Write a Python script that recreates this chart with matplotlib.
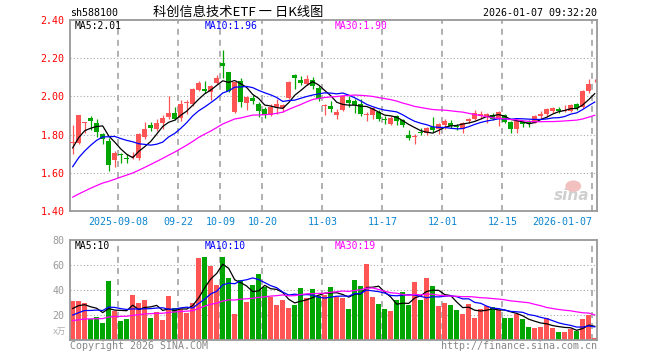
import numpy as np
import matplotlib
matplotlib.use("Agg")
import matplotlib.pyplot as plt
from matplotlib.patches import Ellipse

plt.rcParams['font.family'] = ['DejaVu Sans Mono', 'Noto Sans CJK SC']

# daily candles, 2025-08-27 .. 2026-01-07
open_ = [1.755, 1.754, 1.860, 1.886, 1.860, 1.805, 1.767, 1.667, 1.698, 1.675,
         1.683, 1.675, 1.786, 1.849, 1.828, 1.863, 1.891, 1.912, 1.886, 1.965,
         1.960, 2.035, 2.040, 2.025, 2.070, 2.175, 2.126, 1.919, 2.081, 1.968,
         1.991, 1.960, 1.933, 1.902, 1.946, 1.940, 1.991, 2.112, 2.086, 2.065,
         2.088, 2.042, 1.950, 1.951, 1.905, 1.930, 1.982, 1.975, 1.960, 1.905,
         1.902, 1.919, 1.879, 1.856, 1.895, 1.877, 1.796, 1.790, 1.809, 1.807,
         1.842, 1.828, 1.849, 1.860, 1.843, 1.828, 1.870, 1.881, 1.895, 1.898,
         1.902, 1.884, 1.902, 1.867, 1.828, 1.867, 1.864, 1.863, 1.895, 1.907,
         1.926, 1.935, 1.925, 1.925, 1.960, 1.942, 2.030, 2.084]
high = [1.849, 1.905, 1.868, 1.898, 1.881, 1.810, 1.784, 1.712, 1.703, 1.700,
        1.710, 1.807, 1.867, 1.864, 1.881, 1.902, 2.000, 1.942, 1.980, 1.980,
        2.044, 2.080, 2.080, 2.060, 2.112, 2.244, 2.130, 2.077, 2.098, 2.000,
        2.009, 1.970, 1.942, 1.960, 1.986, 1.960, 2.079, 2.116, 2.108, 2.112,
        2.100, 2.056, 1.960, 1.977, 1.933, 2.004, 2.000, 1.986, 1.986, 1.919,
        1.942, 1.930, 1.895, 1.898, 1.902, 1.884, 1.825, 1.805, 1.837, 1.842,
        1.891, 1.860, 1.881, 1.877, 1.854, 1.867, 1.888, 1.930, 1.925, 1.912,
        1.912, 1.925, 1.907, 1.872, 1.881, 1.872, 1.877, 1.902, 1.925, 1.937,
        1.947, 1.946, 1.954, 1.958, 1.968, 2.035, 2.091, 2.091]
low = [1.696, 1.750, 1.810, 1.825, 1.789, 1.749, 1.609, 1.628, 1.651, 1.650,
       1.670, 1.667, 1.775, 1.820, 1.818, 1.828, 1.880, 1.877, 1.870, 1.910,
       1.950, 2.026, 2.016, 1.980, 2.065, 2.095, 2.025, 1.912, 1.942, 1.930,
       1.958, 1.890, 1.886, 1.895, 1.910, 1.920, 1.988, 2.040, 2.060, 2.060,
       2.040, 1.975, 1.902, 1.919, 1.880, 1.925, 1.942, 1.912, 1.898, 1.872,
       1.881, 1.872, 1.856, 1.849, 1.849, 1.842, 1.772, 1.753, 1.800, 1.796,
       1.814, 1.802, 1.828, 1.832, 1.825, 1.810, 1.860, 1.874, 1.881, 1.860,
       1.877, 1.846, 1.860, 1.810, 1.810, 1.842, 1.842, 1.860, 1.880, 1.895,
       1.912, 1.912, 1.919, 1.916, 1.930, 1.937, 2.018, 2.074]
close = [1.760, 1.902, 1.865, 1.872, 1.814, 1.775, 1.639, 1.704, 1.695, 1.672,
         1.686, 1.802, 1.828, 1.833, 1.863, 1.886, 1.912, 1.884, 1.960, 1.972,
         2.040, 2.070, 2.026, 2.056, 2.096, 2.160, 2.030, 2.074, 1.972, 1.998,
         1.977, 1.925, 1.902, 1.946, 1.958, 1.955, 2.075, 2.095, 2.070, 2.091,
         2.056, 1.985, 1.954, 1.933, 1.919, 2.000, 1.965, 1.954, 1.907, 1.909,
         1.937, 1.881, 1.876, 1.888, 1.872, 1.849, 1.782, 1.793, 1.807, 1.832,
         1.825, 1.854, 1.872, 1.846, 1.842, 1.863, 1.881, 1.912, 1.909, 1.907,
         1.881, 1.916, 1.867, 1.828, 1.872, 1.854, 1.863, 1.898, 1.907, 1.933,
         1.937, 1.925, 1.930, 1.954, 1.937, 2.030, 2.065, 2.086]
# volume, 万手
volume = [31.2, 31.2, 29.9, 16.5, 18.1, 13.9, 47.5, 23.5, 15.5, 16.8,
          36.0, 29.9, 32.0, 17.9, 22.7, 16.0, 35.2, 25.9, 24.8, 21.9,
          29.9, 65.9, 66.7, 59.5, 44.3, 66.7, 49.3, 21.1, 48.0, 30.7,
          44.3, 52.8, 42.7, 34.7, 28.0, 32.0, 25.6, 28.0, 41.6, 33.6,
          40.8, 35.2, 36.0, 42.4, 34.7, 33.6, 24.8, 48.0, 43.2, 60.8,
          34.4, 28.8, 24.8, 23.2, 32.0, 38.4, 28.0, 46.4, 32.0, 49.6,
          43.2, 27.2, 29.6, 28.0, 24.0, 20.8, 28.8, 17.6, 24.8, 27.2,
          26.4, 24.0, 17.6, 17.6, 20.8, 16.8, 10.4, 9.6, 10.4, 17.6,
          9.6, 6.4, 6.4, 8.8, 7.5, 16.8, 20.0, 1.6]

# 29 sessions before the first visible candle (estimated from where the MA lines start)
warmup_close = [1.40, 1.41, 1.42, 1.40, 1.38, 1.37, 1.38, 1.36, 1.35, 1.36,
                1.37, 1.38, 1.37, 1.39, 1.40, 1.41, 1.40, 1.42, 1.43, 1.45,
                1.432, 1.515, 1.572, 1.554, 1.597, 1.632, 1.685, 1.807, 1.768]
warmup_vol = [12, 11, 13, 14, 12, 10, 11, 12, 13, 14,
              15, 13, 12, 14, 15, 16, 14, 13, 15, 17,
              12, 13, 16, 15, 17.5, 20, 26, 25, 24]

tick_pos = [8, 18, 25, 32, 42, 52, 62, 72, 87]
tick_labels = ['2025-09-08', '09-22', '10-09', '10-20', '11-03',
               '11-17', '12-01', '12-15', '2026-01-07']

RED = '#ff5555'
GREEN = '#00a600'
GRID = '#aaaaaa'
BORDER = '#999999'
W, H = 660, 360


def ma(values, warm, n):
    s = np.concatenate([warm, values])
    out = np.convolve(s, np.ones(n) / n, mode='valid')
    return out[-len(values):]


def add_px_axes(fig, left, top, right, bottom):
    return fig.add_axes([left / W, 1 - bottom / H, (right - left) / W, (bottom - top) / H])


def style_panel(ax, ylim, yticks):
    ax.set_xlim(-0.45, 87.38)
    ax.set_ylim(*ylim)
    for sp in ax.spines.values():
        sp.set_color(BORDER)
        sp.set_linewidth(1.3)
    ax.set_xticks([])
    ax.tick_params(axis='y', length=0, pad=4)
    for y in yticks:
        ax.axhline(y, color=GRID, lw=0.8, ls=(0, (1, 2)), zorder=0)
    for p in tick_pos:
        ax.axvline(p - 0.4, color=GRID, lw=1.3, ls=(0, (3.3, 2.8)), zorder=0)


o = np.array(open_)
h = np.array(high)
l = np.array(low)
c = np.array(close)
v = np.array(volume)
x = np.arange(len(c))
up = c >= o
colors = np.where(up, RED, GREEN)

fig = plt.figure(figsize=(W / 100, H / 100), dpi=100)

# ---- price panel ----
ax = add_px_axes(fig, 70, 20, 597, 211)
style_panel(ax, (1.40, 2.40), [1.60, 1.80, 2.00, 2.20])
ax.set_yticks([1.40, 1.60, 1.80, 2.00, 2.20, 2.40])
ax.set_yticklabels(['%.2f' % t for t in [1.40, 1.60, 1.80, 2.00, 2.20, 2.40]],
                   color='#ff0000', fontsize=7.2)

ax.vlines(x, l, h, colors=colors, lw=0.9, zorder=2)
body = np.maximum(np.abs(c - o), 0.004)
ax.bar(x, body, bottom=np.minimum(o, c), width=0.8, color=colors, zorder=3)

ax.plot(x, ma(c, warmup_close, 5), color='black', lw=0.9, zorder=4)
ax.plot(x, ma(c, warmup_close, 10), color='#0000ff', lw=0.9, zorder=4)
ax.plot(x, ma(c, warmup_close, 30), color='#ff00ff', lw=0.9, zorder=4)

# sina watermark
ax.text(0.985, 0.04, 'sina', transform=ax.transAxes, ha='right', va='bottom',
        fontsize=11, fontweight='bold', fontstyle='italic', color='#cfcfcf',
        family='DejaVu Sans', zorder=1)
ax.add_patch(Ellipse((0.955, 0.13), 0.03, 0.06, transform=ax.transAxes,
                     fc='#f3c0c0', ec='none', zorder=1))

# ---- volume panel ----
axv = add_px_axes(fig, 70, 240, 597, 340)
style_panel(axv, (0, 80), [20, 40, 60])
axv.set_yticks([20, 40, 60, 80])
axv.set_yticklabels(['20', '40', '60', '80'], color='#999999', fontsize=7.2)
axv.bar(x, v, width=0.85, color=colors, zorder=2)
axv.plot(x, ma(v, warmup_vol, 5), color='black', lw=0.9, zorder=4)
axv.plot(x, ma(v, warmup_vol, 10), color='#0000ff', lw=0.9, zorder=4)
axv.plot(x, ma(v, warmup_vol, 30), color='#ff00ff', lw=0.9, zorder=4)

# ---- date labels between the panels ----
for p, lab in zip(tick_pos, tick_labels):
    xf = (70 + (p - 0.4 + 0.45) * 6) / W
    ha = 'right' if p == tick_pos[-1] else 'center'
    fig.text(xf, 1 - 222 / H, lab, ha=ha, va='center', color='#0a84d0', fontsize=7.2)

# ---- header and labels ----
def ftext(px, py, s, **kw):
    fig.text(px / W, 1 - py / H, s, va='center', **kw)

ftext(70, 13, 'sh588100', fontsize=7.2, color='black')
ftext(238, 12, '科创信息技术ETF 一 日K线图', fontsize=9.5, ha='center', color='black',
      family=['Noto Sans CJK SC', 'DejaVu Sans'])
ftext(597, 13, '2026-01-07 09:32:20', fontsize=7.2, ha='right', color='black')

ftext(75, 26, 'MA5:2.01', fontsize=7, color='black')
ftext(205, 26, 'MA10:1.96', fontsize=7, color='#0000ff')
ftext(335, 26, 'MA30:1.90', fontsize=7, color='#ff00ff')

ftext(75, 246, 'MA5:10', fontsize=7, color='black')
ftext(205, 246, 'MA10:10', fontsize=7, color='#0000ff')
ftext(335, 246, 'MA30:19', fontsize=7, color='#ff00ff')

ftext(66, 331, 'x万', fontsize=6, ha='right', color='#aaaaaa',
      family=['DejaVu Sans Mono', 'Noto Sans CJK SC'])
ftext(70, 346, 'Copyright 2026 SINA.COM', fontsize=7.2, color='#888888')
ftext(597, 346, 'http://finance.sina.com.cn', fontsize=7.2, ha='right', color='#888888')

fig.savefig('out.png', dpi=100)
